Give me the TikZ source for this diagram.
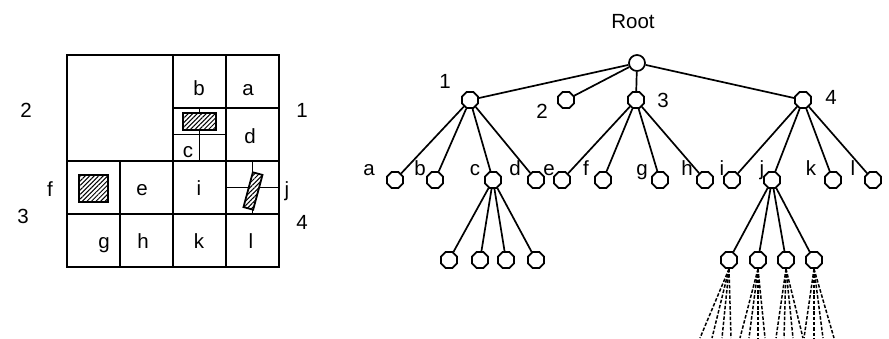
\documentclass[tikz,border=0pt]{standalone}
\usepackage{fontspec}
\setmainfont{Liberation Sans}
\usetikzlibrary{shapes.geometric,patterns.meta}
\begin{document}
\begin{tikzpicture}[x=1pt,y=-1pt,
  lw/.style={line width=1.8pt},
  oct/.style={draw, line width=1.7pt, regular polygon, regular polygon sides=8, minimum size=17.5pt, inner sep=0pt, fill=white},
  rootnode/.style={draw, line width=1.7pt, circle, minimum size=16pt, inner sep=0pt, fill=white},
  lbl/.style={anchor=base, inner sep=0pt, font=\fontsize{20.5}{24}\selectfont},
  edge/.style={line width=1.7pt},
  fan/.style={line width=1.5pt, dash pattern=on 3.5pt off 1.8pt},
  hatch/.style={draw, line width=1.8pt, fill=white, postaction={pattern={Lines[angle=45,distance=3.2pt,line width=1pt]}}}
]
\useasboundingbox (0,0) rectangle (889,338);

% ---------- quadtree grid ----------
\draw[lw] (67,55) rectangle (279,267);
\draw[lw] (173,55) -- (173,267);
\draw[lw] (67,161) -- (279,161);
\draw[lw] (226,55) -- (226,161);
\draw[lw] (173,108) -- (279,108);
\draw[lw] (120,161) -- (120,267);
\draw[lw] (67,214) -- (279,214);
\draw[lw] (226,161) -- (226,267);
\draw[lw] (199.5,108) -- (199.5,161);
\draw[lw] (173,134.5) -- (226,134.5);
\draw[lw] (252.5,161) -- (252.5,214);
\draw[lw] (226,187.5) -- (279,187.5);

% hatched objects
\draw[hatch] (183,113) rectangle (216,130);
\draw[hatch] (79,175) rectangle (108,202);
\node[hatch, minimum width=10pt, minimum height=36pt, inner sep=0pt, rotate=-15] (rj) at (253,191) {};

% grid labels
\node[lbl] (ga) at (248,95) {a};
\node[lbl] (gb) at (199,95) {b};
\node[lbl] (gd) at (250,143) {d};
\node[lbl] (gc) at (188,157) {c};
\node[lbl] (ge) at (142,195) {e};
\node[lbl] (gi) at (199,195) {i};
\node[lbl] (gg) at (104,248) {g};
\node[lbl] (gh) at (143,248) {h};
\node[lbl] (gk) at (199,248) {k};
\node[lbl] (gl) at (251,248) {l};
\node[lbl] (q2) at (26,117) {2};
\node[lbl] (q1) at (302,117) {1};
\node[lbl] (gf) at (50,196) {f};
\node[lbl] (q3) at (23,223) {3};
\node[lbl] (gj) at (287,196) {j};
\node[lbl] (q4) at (302,229) {4};

% ---------- tree ----------
\node[lbl] (rootlbl) at (633,28) {Root};
\node[rootnode] (root) at (637,63) {};
\node[oct] (n1) at (470,100) {};
\node[oct] (n2) at (566,100) {};
\node[oct] (n3) at (636,100) {};
\node[oct] (n4) at (803,100) {};
\node[lbl] (t1) at (445,88) {1};
\node[lbl] (t2) at (542,118) {2};
\node[lbl] (t3) at (663,107) {3};
\node[lbl] (t4) at (831,104) {4};

\foreach \n/\x/\lx in {a/395/369, b/435/420, c/493/475, d/536/515, e/562/549, f/603/586,
                        g/660/642, h/705/687, i/732/722, j/772/762, k/833/811, l/873/853} {
  \node[oct] (l\n) at (\x,180) {};
  \node[lbl] (t\n) at (\lx,175) {\n};
}

\foreach \c in {n1,n2,n3,n4} \draw[edge] (root) -- (\c);
\foreach \c in {a,b,c,d} \draw[edge] (n1) -- (l\c);
\foreach \c in {e,f,g,h} \draw[edge] (n3) -- (l\c);
\foreach \c in {i,j,k,l} \draw[edge] (n4) -- (l\c);

\foreach \x [count=\k] in {449,480,506,536} {
  \node[oct] (cc\k) at (\x,260) {};
  \draw[edge] (lc) -- (cc\k);
}
\foreach \x [count=\k] in {729,758,786,814} {
  \node[oct] (jc\k) at (\x,260) {};
  \draw[edge] (lj) -- (jc\k);
}

% dashed fans below j's children
\foreach \c/\xs in {1/{700,712,722,731}, 2/{740,749,758,765}, 3/{776,784,793,803}, 4/{804,814,823,834}} {
  \foreach \x [count=\k] in \xs {
    \coordinate (f\c\k) at (\x,338);
    \draw[fan] (jc\c.south) -- (f\c\k);
  }
}
\end{tikzpicture}
\end{document}
